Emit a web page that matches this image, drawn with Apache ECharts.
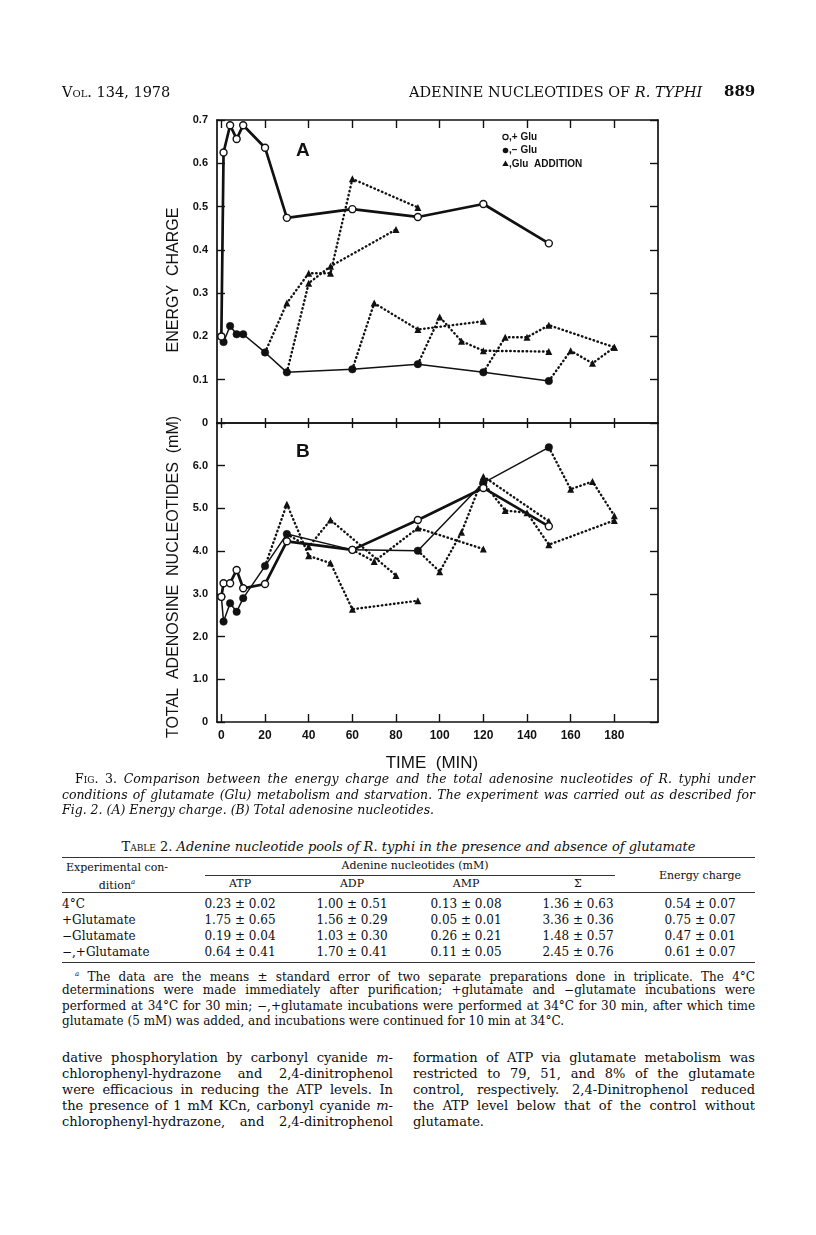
<!DOCTYPE html>
<html>
<head>
<meta charset="utf-8">
<script src="https://cdn.jsdelivr.net/npm/echarts@6/dist/echarts.min.js"></script>
<style>
  html,body{margin:0;padding:0;background:#fff;}
  #page{position:relative;width:816px;height:1235px;overflow:hidden;background:#fff;}
  #chart{position:absolute;left:0;top:0;width:816px;height:780px;}
  .t{position:absolute;font-family:"DejaVu Serif","Liberation Serif",serif;color:#0d0d0d;white-space:nowrap;line-height:16px;}
  .j{position:absolute;font-family:"DejaVu Serif","Liberation Serif",serif;color:#0d0d0d;text-align:justify;text-align-last:justify;line-height:16px;}
  .sc{font-variant:small-caps;font-style:normal;}
  .it{font-style:italic;}
  .rule{position:absolute;height:0;border-top:1px solid #333;}
  .c{text-align:center;}
</style>
</head>
<body>
<div id="page">
  <div id="chart"></div>

  <!-- running head -->
  <div class="t sc" style="left:62px;top:84px;font-size:14.5px;">Vol. 134, 1978</div>
  <div class="t" style="left:409px;top:84px;font-size:14.5px;">ADENINE NUCLEOTIDES OF <i>R. TYPHI</i></div>
  <div class="t" style="left:724px;top:83px;font-size:15px;font-weight:bold;">889</div>

  <!-- figure caption -->
  <div class="j it" style="left:75px;top:771px;width:680px;font-size:12.5px;"><span class="sc">Fig. 3.</span> Comparison between the energy charge and the total adenosine nucleotides of R. typhi under</div>
  <div class="j it" style="left:62px;top:787px;width:693px;font-size:12.5px;">conditions of glutamate (Glu) metabolism and starvation. The experiment was carried out as described for</div>
  <div class="t it" style="left:62px;top:802px;font-size:12.5px;">Fig. 2. (A) Energy charge. (B) Total adenosine nucleotides.</div>

  <!-- table -->
  <div class="t c" style="left:62px;top:839px;width:693px;font-size:13px;"><span class="sc">Table 2.</span> <i>Adenine nucleotide pools of R. typhi in the presence and absence of glutamate</i></div>
  <div class="rule" style="left:62px;top:857px;width:693px;"></div>
  <div class="t c" style="left:62px;top:860px;width:110px;font-size:11px;">Experimental con-</div>
  <div class="t c" style="left:62px;top:874px;width:110px;font-size:11px;">dition<sup style="font-size:7px;font-style:italic;">a</sup></div>
  <div class="t c" style="left:300px;top:858px;width:230px;font-size:11px;">Adenine nucleotides (mM)</div>
  <div class="rule" style="left:205px;top:875px;width:410px;"></div>
  <div class="t c" style="left:640px;top:868px;width:120px;font-size:11px;">Energy charge</div>
  <div class="t c" style="left:200px;top:876px;width:80px;font-size:11px;">ATP</div>
  <div class="t c" style="left:312px;top:876px;width:80px;font-size:11px;">ADP</div>
  <div class="t c" style="left:426px;top:876px;width:80px;font-size:11px;">AMP</div>
  <div class="t c" style="left:538px;top:876px;width:80px;font-size:11px;">&Sigma;</div>
  <div class="rule" style="left:62px;top:892px;width:693px;"></div>
  <div id="tbody"></div>
  <div class="rule" style="left:62px;top:962px;width:693px;"></div>

  <!-- footnote -->
  <div class="j" style="left:75px;top:966px;width:680px;font-size:12px;"><sup style="font-size:7px;font-style:italic;">a</sup> The data are the means ± standard error of two separate preparations done in triplicate. The 4°C</div>
  <div class="j" style="left:62px;top:982px;width:693px;font-size:12px;">determinations were made immediately after purification; +glutamate and −glutamate incubations were</div>
  <div class="j" style="left:62px;top:998px;width:693px;font-size:12px;">performed at 34°C for 30 min; −,+glutamate incubations were performed at 34°C for 30 min, after which time</div>
  <div class="t" style="left:62px;top:1013px;font-size:12px;">glutamate (5 mM) was added, and incubations were continued for 10 min at 34°C.</div>

  <!-- body text -->
  <div class="j" style="left:62px;top:1050px;width:331px;font-size:13px;">dative phosphorylation by carbonyl cyanide <i>m</i>-</div>
  <div class="j" style="left:62px;top:1066px;width:331px;font-size:13px;">chlorophenyl-hydrazone and 2,4-dinitrophenol</div>
  <div class="j" style="left:62px;top:1082px;width:331px;font-size:13px;">were efficacious in reducing the ATP levels. In</div>
  <div class="j" style="left:62px;top:1098px;width:331px;font-size:13px;">the presence of 1 mM KCn, carbonyl cyanide <i>m</i>-</div>
  <div class="j" style="left:62px;top:1114px;width:331px;font-size:13px;">chlorophenyl-hydrazone, and 2,4-dinitrophenol</div>
  <div class="j" style="left:413px;top:1050px;width:342px;font-size:13px;">formation of ATP via glutamate metabolism was</div>
  <div class="j" style="left:413px;top:1066px;width:342px;font-size:13px;">restricted to 79, 51, and 8% of the glutamate</div>
  <div class="j" style="left:413px;top:1082px;width:342px;font-size:13px;">control, respectively. 2,4-Dinitrophenol reduced</div>
  <div class="j" style="left:413px;top:1098px;width:342px;font-size:13px;">the ATP level below that of the control without</div>
  <div class="t" style="left:413px;top:1114px;font-size:13px;">glutamate.</div>
</div>

<script>
// ---------------- data ----------------
const timeTicks = [0, 20, 40, 60, 80, 100, 120, 140, 160, 180];
const ecTicks = [0, 0.1, 0.2, 0.3, 0.4, 0.5, 0.6, 0.7];
const tanTicks = [0, 1, 2, 3, 4, 5, 6];

const timesMain = [0, 1, 4, 7, 10, 20, 30, 60, 90, 120, 150];

// Panel A: energy charge
const ecPlusGlu  = [0.20, 0.625, 0.688, 0.656, 0.688, 0.636, 0.474, 0.494, 0.476, 0.506, 0.415];
const ecMinusGlu = [0.20, 0.187, 0.224, 0.205, 0.205, 0.163, 0.117, 0.124, 0.136, 0.117, 0.097];

// Panel A: glutamate additions (each starts at a -Glu point)
const ecAdd20T  = [20, 30, 40, 50, 60, 90];
const ecAdd20V  = [0.163, 0.277, 0.346, 0.346, 0.564, 0.498];
const ecAdd30T  = [30, 40, 50, 80];
const ecAdd30V  = [0.117, 0.323, 0.362, 0.447];
const ecAdd60T  = [60, 70, 90, 120];
const ecAdd60V  = [0.124, 0.277, 0.216, 0.235];
const ecAdd90T  = [90, 100, 110, 120, 150];
const ecAdd90V  = [0.136, 0.245, 0.189, 0.167, 0.165];
const ecAdd120T = [120, 130, 140, 150, 180];
const ecAdd120V = [0.117, 0.198, 0.198, 0.226, 0.175];
const ecAdd150T = [150, 160, 170, 180];
const ecAdd150V = [0.097, 0.167, 0.138, 0.175];

// Panel B: total adenosine nucleotides (mM)
const tanPlusGlu  = [2.93, 3.25, 3.25, 3.56, 3.13, 3.23, 4.23, 4.03, 4.73, 5.48, 4.58];
const tanMinusGlu = [2.93, 2.35, 2.78, 2.58, 2.90, 3.65, 4.40, 4.03, 4.01, 5.60, 6.43];

const tanAdd20T  = [20, 30, 40, 50, 60, 90];
const tanAdd20V  = [3.65, 5.10, 3.89, 3.72, 2.64, 2.84];
const tanAdd30T  = [30, 40, 50, 80];
const tanAdd30V  = [4.40, 4.10, 4.73, 3.43];
const tanAdd60T  = [60, 70, 90, 120];
const tanAdd60V  = [4.03, 3.76, 4.54, 4.05];
const tanAdd90T  = [90, 100, 110, 120, 150];
const tanAdd90V  = [4.01, 3.52, 4.44, 5.75, 4.70];
const tanAdd120T = [120, 130, 140, 150, 180];
const tanAdd120V = [5.60, 4.95, 4.90, 4.15, 4.72];
const tanAdd150T = [150, 160, 170, 180];
const tanAdd150V = [6.43, 5.45, 5.63, 4.83];

// Table 2
const tableRows = ['4°C', '+Glutamate', '−Glutamate', '−,+Glutamate'];
const tableATP = ['0.23 ± 0.02', '1.75 ± 0.65', '0.19 ± 0.04', '0.64 ± 0.41'];
const tableADP = ['1.00 ± 0.51', '1.56 ± 0.29', '1.03 ± 0.30', '1.70 ± 0.41'];
const tableAMP = ['0.13 ± 0.08', '0.05 ± 0.01', '0.26 ± 0.21', '0.11 ± 0.05'];
const tableSum = ['1.36 ± 0.63', '3.36 ± 0.36', '1.48 ± 0.57', '2.45 ± 0.76'];
const tableEC  = ['0.54 ± 0.07', '0.75 ± 0.07', '0.47 ± 0.01', '0.61 ± 0.07'];

// ---------------- table body ----------------
(function () {
  const tb = document.getElementById('tbody');
  const cols = [[tableATP, 240], [tableADP, 352], [tableAMP, 466], [tableSum, 578], [tableEC, 700]];
  tableRows.forEach((r, i) => {
    const top = 896 + i * 16;
    let h = '<div class="t" style="left:62px;top:' + top + 'px;font-size:12px;">' + r + '</div>';
    cols.forEach(([arr, cx]) => {
      h += '<div class="t c" style="left:' + (cx - 55) + 'px;top:' + top + 'px;width:110px;font-size:12px;">' + arr[i] + '</div>';
    });
    tb.insertAdjacentHTML('beforeend', h);
  });
})();

// ---------------- chart ----------------
const INK = '#111';
const SANS = '"Liberation Sans", Arial, sans-serif';
const pairs = (ts, vs) => ts.map((t, i) => [t, vs[i]]);
const addData = (ts, vs) => ts.map((t, i) => i === 0 ? { value: [t, vs[i]], symbol: 'none' } : [t, vs[i]]);

function xAx(grid, pos, tickLen, withLabels) {
  return {
    type: 'value', gridIndex: grid, position: pos, min: -2, max: 200,
    axisLine: { show: true, onZero: false, lineStyle: { color: INK, width: 1.7 } },
    axisTick: { show: true, inside: true, length: tickLen, customValues: timeTicks, lineStyle: { color: INK, width: 1.4 } },
    axisLabel: withLabels ? { show: true, customValues: timeTicks, margin: 8, fontFamily: SANS, fontSize: 12, fontWeight: 'bold', color: INK } : { show: false },
    splitLine: { show: false }
  };
}
function yAx(grid, pos, max, ticks, labelVals) {
  return {
    type: 'value', gridIndex: grid, position: pos, min: 0, max: max,
    axisLine: { show: true, onZero: false, lineStyle: { color: INK, width: 1.7 } },
    axisTick: { show: true, inside: true, length: 8, customValues: ticks, lineStyle: { color: INK, width: 1.4 } },
    axisLabel: labelVals ? {
      show: true, customValues: labelVals, margin: 9, fontFamily: SANS, fontSize: 11, fontWeight: 'bold', color: INK,
      formatter: v => (v === 0 ? '0' : Number(v).toFixed(1))
    } : { show: false },
    splitLine: { show: false }
  };
}

const plusStyle = (grid) => ({
  type: 'line', xAxisIndex: grid * 2, yAxisIndex: grid * 2, z: 5,
  symbol: 'circle', symbolSize: 7,
  itemStyle: { color: '#fff', borderColor: INK, borderWidth: 1.4 },
  lineStyle: { color: INK, width: 2.7 }
});
const minusStyle = (grid) => ({
  type: 'line', xAxisIndex: grid * 2, yAxisIndex: grid * 2, z: 4,
  symbol: 'circle', symbolSize: 7.5,
  itemStyle: { color: INK, borderColor: INK, borderWidth: 0.5 },
  lineStyle: { color: INK, width: 1.5 }
});
const addStyle = (grid) => ({
  type: 'line', xAxisIndex: grid * 2, yAxisIndex: grid * 2, z: 3,
  symbol: 'triangle', symbolSize: 7,
  itemStyle: { color: INK },
  lineStyle: { color: INK, width: 2.4, type: [0.5, 3.6], cap: 'round' }
});

const series = [
  Object.assign(plusStyle(0), { name: '+ Glu A', data: pairs(timesMain, ecPlusGlu) }),
  Object.assign(minusStyle(0), { name: '- Glu A', data: pairs(timesMain, ecMinusGlu) }),
  Object.assign(addStyle(0), { data: addData(ecAdd20T, ecAdd20V) }),
  Object.assign(addStyle(0), { data: addData(ecAdd30T, ecAdd30V) }),
  Object.assign(addStyle(0), { data: addData(ecAdd60T, ecAdd60V) }),
  Object.assign(addStyle(0), { data: addData(ecAdd90T, ecAdd90V) }),
  Object.assign(addStyle(0), { data: addData(ecAdd120T, ecAdd120V) }),
  Object.assign(addStyle(0), { data: addData(ecAdd150T, ecAdd150V) }),
  Object.assign(plusStyle(1), { name: '+ Glu B', data: pairs(timesMain, tanPlusGlu) }),
  Object.assign(minusStyle(1), { name: '- Glu B', data: pairs(timesMain, tanMinusGlu) }),
  Object.assign(addStyle(1), { data: addData(tanAdd20T, tanAdd20V) }),
  Object.assign(addStyle(1), { data: addData(tanAdd30T, tanAdd30V) }),
  Object.assign(addStyle(1), { data: addData(tanAdd60T, tanAdd60V) }),
  Object.assign(addStyle(1), { data: addData(tanAdd90T, tanAdd90V) }),
  Object.assign(addStyle(1), { data: addData(tanAdd120T, tanAdd120V) }),
  Object.assign(addStyle(1), { data: addData(tanAdd150T, tanAdd150V) })
];

const legendFont = 'bold 10px ' + SANS;
const option = {
  animation: false,
  backgroundColor: 'transparent',
  grid: [
    { left: 217, top: 120, width: 441, height: 303 },
    { left: 217, top: 423, width: 441, height: 299 }
  ],
  xAxis: [
    xAx(0, 'bottom', 5, false),
    xAx(0, 'top', 8, false),
    xAx(1, 'bottom', 8, true),
    xAx(1, 'top', 5, false)
  ],
  yAxis: [
    yAx(0, 'left', 0.7, ecTicks, ecTicks),
    yAx(0, 'right', 0.7, ecTicks, null),
    yAx(1, 'left', 7, tanTicks, tanTicks),
    yAx(1, 'right', 7, tanTicks, null)
  ],
  series: series,
  graphic: [
    { type: 'text', left: 296, top: 141, style: { text: 'A', font: 'bold 19px ' + SANS, fill: INK } },
    { type: 'text', left: 296, top: 442, style: { text: 'B', font: 'bold 19px ' + SANS, fill: INK } },
    // legend
    { type: 'circle', shape: { cx: 505.5, cy: 137, r: 2.6 }, style: { fill: '#fff', stroke: INK, lineWidth: 1.2 } },
    { type: 'text', x: 509, y: 137, style: { text: ',+ Glu', font: legendFont, fill: INK, verticalAlign: 'middle' } },
    { type: 'circle', shape: { cx: 505.5, cy: 150.5, r: 2.8 }, style: { fill: INK } },
    { type: 'text', x: 509, y: 150.5, style: { text: ',− Glu', font: legendFont, fill: INK, verticalAlign: 'middle' } },
    { type: 'polygon', shape: { points: [[505.5, 160.5], [502.3, 166], [508.7, 166]] }, style: { fill: INK } },
    { type: 'text', x: 509, y: 164, style: { text: ',Glu  ADDITION', font: legendFont, fill: INK, verticalAlign: 'middle' } },
    // axis titles
    { type: 'text', x: 174, y: 280, rotation: Math.PI / 2,
      style: { text: 'ENERGY  CHARGE', font: '16px ' + SANS, fill: INK, align: 'center', verticalAlign: 'middle' } },
    { type: 'text', x: 174, y: 577, rotation: Math.PI / 2,
      style: { text: 'TOTAL  ADENOSINE  NUCLEOTIDES  (mM)', font: '16px ' + SANS, fill: INK, align: 'center', verticalAlign: 'middle' } },
    { type: 'text', x: 432, y: 763,
      style: { text: 'TIME  (MIN)', font: '17px ' + SANS, fill: INK, align: 'center', verticalAlign: 'middle' } }
  ]
};

const chart = echarts.init(document.getElementById('chart'));
chart.setOption(option);
</script>
</body>
</html>
